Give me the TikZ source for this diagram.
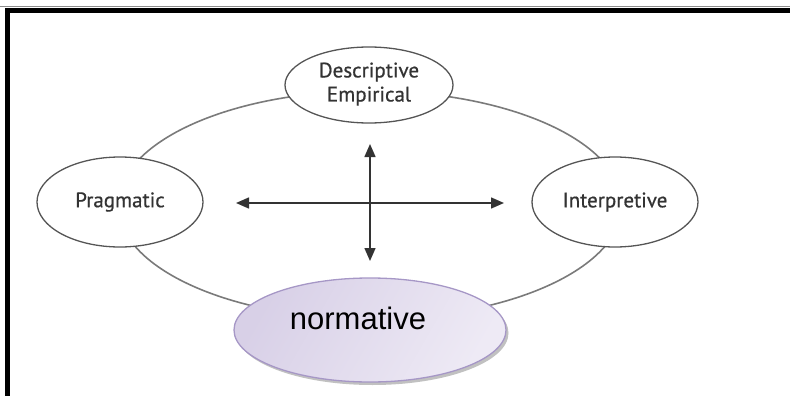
\documentclass[tikz,border=0pt]{standalone}
\usepackage{fontspec}
\setmainfont{Liberation Sans}
\newfontfamily\lblfont[FakeBold=0.6]{PT Sans}
\usetikzlibrary{shapes.geometric,arrows.meta,shadows}
\definecolor{ringgray}{HTML}{7A7A7A}
\definecolor{ovalgray}{HTML}{555555}
\definecolor{txtgray}{HTML}{333333}
\definecolor{lavlight}{HTML}{EEEAF5}
\definecolor{lavdark}{HTML}{D8D0E7}
\definecolor{lavedge}{HTML}{A697C6}
\tikzset{
  oval/.style={ellipse, draw=ovalgray, line width=1.3pt, fill=white, inner sep=0pt,
    font=\lblfont\fontsize{21}{23}\selectfont, text=txtgray, align=center},
  ring/.style={ellipse, draw=ringgray, line width=1.6pt, inner sep=0pt},
  norm/.style={ellipse, draw=lavedge, line width=1.3pt, inner sep=0pt,
    left color=lavdark, right color=lavlight, shading angle=60,
    drop shadow={shadow xshift=2.5pt, shadow yshift=-3pt, fill=black!35, opacity=0.7}},
  axis/.style={draw=black!80, line width=1.5pt, {Triangle[length=13pt,width=11pt]}-{Triangle[length=13pt,width=11pt]}},
}
\begin{document}
\begin{tikzpicture}[x=1pt,y=-1pt]
\useasboundingbox (0,0) rectangle (790,396);
% frame
\draw[black!45, line width=1pt] (0,7) -- (790,7);
\draw[black, line width=5.5pt] (7.5,396) -- (7.5,10.5) -- (790,10.5);
% ring
\node[ring, minimum width=504pt, minimum height=228pt] (ring) at (370,205) {};
% ovals
\node[oval, minimum width=168pt, minimum height=76pt] (desc) at (369,85) {\raisebox{6pt}{\shortstack{Descriptive\\[2pt]Empirical}}};
\node[oval, minimum width=166pt, minimum height=90pt] (prag) at (120,202) {Pragmatic};
\node[oval, minimum width=166pt, minimum height=90pt] (interp) at (615,202) {Interpretive};
% normative
\node[norm, minimum width=272pt, minimum height=104pt] (norm) at (370,330) {};
\node[font=\fontsize{31}{36}\selectfont, text=black, anchor=center] (normtxt) at (358,318) {normative};
% axes
\coordinate (left) at (236,203);
\coordinate (right) at (504,203);
\coordinate (top) at (370,144);
\coordinate (bot) at (370,261);
\draw[axis] (left) -- (right);
\draw[axis] (top) -- (bot);
\end{tikzpicture}
\end{document}
